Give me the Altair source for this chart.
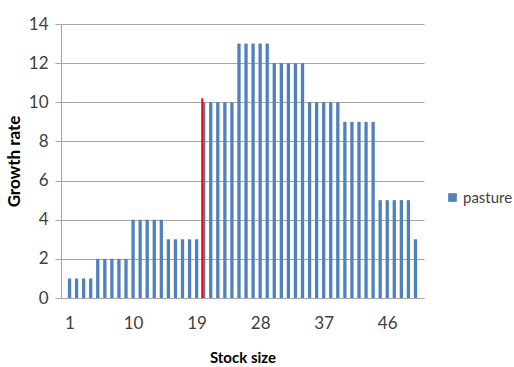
import altair as alt
import pandas as pd

stock_size = list(range(1, 51))
growth_rate = [1, 1, 1, 1,
               2, 2, 2, 2, 2,
               4, 4, 4, 4, 4,
               3, 3, 3, 3, 3,
               10, 10, 10, 10, 10,
               13, 13, 13, 13, 13,
               12, 12, 12, 12, 12,
               10, 10, 10, 10, 10,
               9, 9, 9, 9, 9,
               5, 5, 5, 5, 5,
               3]
series = ["pasture"] * len(stock_size)
x_ticks = [1, 10, 19, 28, 37, 46]
y_ticks = [0, 2, 4, 6, 8, 10, 12, 14]
threshold_x = [19.8]
threshold_top = [10.2]

df = pd.DataFrame({"stock": stock_size, "growth": growth_rate, "series": series})
rule_df = pd.DataFrame({"x": threshold_x, "y0": [0], "y1": threshold_top})

FONT = "Lato"
xscale = alt.Scale(domain=[0.5, 50.5], nice=False, zero=False)
yscale = alt.Scale(domain=[0, 14], nice=False)

x_axis = alt.Axis(values=x_ticks, title="Stock size", grid=False, ticks=False,
                  labelPadding=17, titlePadding=19, domainColor="#A6A6A6",
                  labelFontSize=17, labelColor="#404040", labelFont=FONT,
                  labelOverlap=False,
                  titleFont=FONT, titleFontSize=15, titleFontWeight="bold",
                  titleColor="#000000")
y_axis = alt.Axis(values=y_ticks, title="Growth rate",
                  grid=True, gridColor="#A6A6A6", tickColor="#A6A6A6",
                  tickSize=6, domainColor="#A6A6A6", labelPadding=7,
                  labelFontSize=17, labelColor="#404040", labelFont=FONT,
                  labelOverlap=False,
                  titleFont=FONT, titleFontSize=17, titleFontWeight="bold",
                  titleColor="#000000", titlePadding=5)

bars = alt.Chart(df).mark_bar(size=3.3, color="#4F81BD").encode(
    x=alt.X("stock:Q", scale=xscale, axis=x_axis),
    y=alt.Y("growth:Q", scale=yscale, axis=y_axis),
    fill=alt.Fill("series:N", scale=alt.Scale(range=["#4F81BD"]),
                  legend=alt.Legend(title=None, orient="none", legendX=384, legendY=166,
                                    symbolType="square", symbolSize=75, labelOffset=3,
                                    labelFontSize=15, labelFont=FONT, labelColor="#404040",
                                    symbolStrokeWidth=0)),
)

rule = alt.Chart(rule_df).mark_rule(color="#FF0000", strokeWidth=2).encode(
    x=alt.X("x:Q", scale=xscale, axis=x_axis),
    y=alt.Y("y0:Q", scale=yscale, axis=y_axis),
    y2="y1:Q",
)

chart = (bars + rule).properties(
    width=363, height=274,
    autosize=alt.AutoSizeParams(type="none"),
    padding={"left": 61, "top": 24, "right": 90, "bottom": 69},
    background="white",
).configure_view(stroke=None)

chart.save("out.html", embed_options={"renderer": "svg", "actions": False})
